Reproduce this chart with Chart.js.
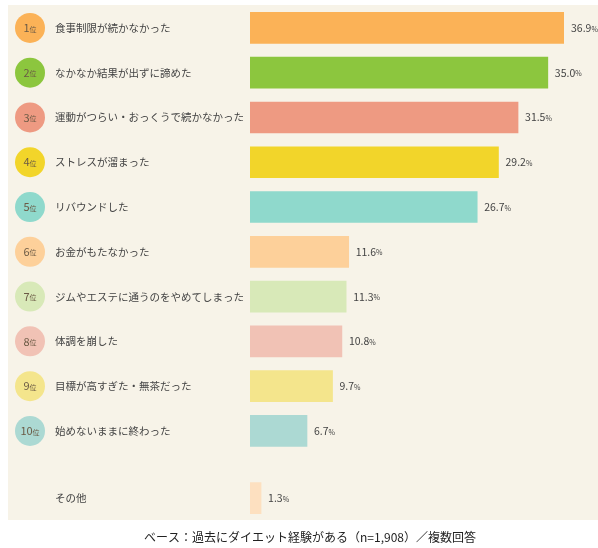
<!DOCTYPE html>
<html><head><meta charset="utf-8">
<script src="https://cdn.jsdelivr.net/npm/chart.js@4"></script>
<style>body{margin:0;background:#fff}canvas{display:block}</style>
</head><body>
<canvas id="c" width="598" height="548"></canvas>
<script>
const ranks  = ['1位','2位','3位','4位','5位','6位','7位','8位','9位','10位',''];
const labels = ['食事制限が続かなかった','なかなか結果が出ずに諦めた','運動がつらい・おっくうで続かなかった','ストレスが溜まった','リバウンドした','お金がもたなかった','ジムやエステに通うのをやめてしまった','体調を崩した','目標が高すぎた・無茶だった','始めないままに終わった','その他'];
const values = [36.9, 35.0, 31.5, 29.2, 26.7, 11.6, 11.3, 10.8, 9.7, 6.7, 1.3];
const rows   = [0, 1, 2, 3, 4, 5, 6, 7, 8, 9, 10.5];
const barColors  = ['#fbb257','#8cc63e','#ee9a82','#f2d52a','#8fd9cc','#fdd09a','#d8e9b8','#f1c2b5','#f4e58c','#acd9d3','#fde0c0'];
const dotColors  = ['#fbb257','#8cc63e','#ee9a82','#f2d52a','#8fd9cc','#fdd09a','#d8e9b8','#f1c2b5','#f4e58c','#acd9d3',null];
const FONT = '"Noto Sans CJK JP", "Noto Sans", sans-serif';

const deco = {
  id: 'deco',
  beforeDraw(chart) {
    const ctx = chart.ctx;
    ctx.save();
    ctx.fillStyle = '#f7f3e8';
    ctx.fillRect(8, 5, 590, 515);
    ctx.restore();
  },
  afterDatasetsDraw(chart) {
    const ctx = chart.ctx, x = chart.scales.x, y = chart.scales.y;
    ctx.save();
    ctx.textBaseline = 'middle';
    rows.forEach((r, i) => {
      const cy = y.getPixelForValue(r);
      if (dotColors[i]) {
        ctx.fillStyle = dotColors[i];
        ctx.beginPath(); ctx.arc(30, cy, 15, 0, Math.PI * 2); ctx.fill();
        const num = ranks[i].replace('位', '');
        ctx.fillStyle = '#6b5a45';
        ctx.font = '11px ' + FONT;
        const w1 = ctx.measureText(num).width;
        ctx.font = '7px ' + FONT;
        const w2 = ctx.measureText('位').width;
        const sx = 30 - (w1 + w2) / 2;
        ctx.textAlign = 'left';
        ctx.font = '11px ' + FONT; ctx.fillText(num, sx, cy);
        ctx.font = '7px ' + FONT; ctx.fillText('位', sx + w1, cy + 1);
      }
      ctx.fillStyle = '#444';
      ctx.font = '10.5px ' + FONT;
      ctx.textAlign = 'left';
      ctx.fillText(labels[i], 55, cy);
      const vx = x.getPixelForValue(values[i]) + 7;
      const s = values[i].toFixed(1);
      ctx.font = '10.5px ' + FONT;
      ctx.fillText(s, vx, cy);
      const w = ctx.measureText(s).width;
      ctx.font = '7px ' + FONT;
      ctx.fillText('%', vx + w, cy + 1);
    });
    ctx.fillStyle = '#222';
    ctx.font = '12px ' + FONT;
    ctx.textAlign = 'center';
    ctx.fillText('ベース：過去にダイエット経験がある（n=1,908）／複数回答', 310, 537);
    ctx.restore();
  }
};

new Chart(document.getElementById('c'), {
  type: 'bar',
  data: {
    datasets: [{
      data: values.map((v, i) => ({ x: v, y: rows[i] })),
      backgroundColor: barColors,
      barThickness: 31
    }]
  },
  options: {
    indexAxis: 'y',
    responsive: false,
    animation: false,
    layout: { padding: { left: 250, right: 34, top: 5.5, bottom: 27.5 } },
    plugins: { legend: { display: false }, tooltip: { enabled: false } },
    scales: {
      x: { type: 'linear', min: 0, max: 36.9, display: false },
      y: { type: 'linear', min: -0.5, max: 11, reverse: true, offset: false, display: false }
    }
  },
  plugins: [deco]
});
</script>
</body></html>
